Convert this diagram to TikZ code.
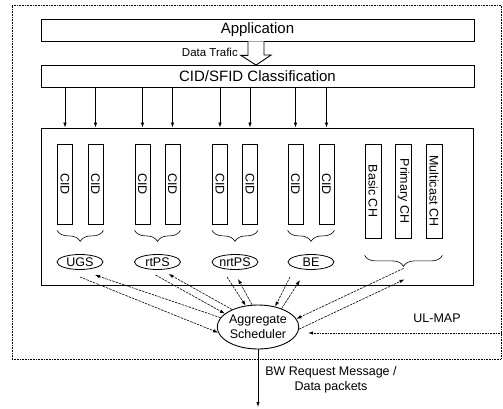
\documentclass[tikz,border=0pt]{standalone}
\usepackage{fontspec}
\setmainfont{Liberation Sans}
\usetikzlibrary{arrows.meta, positioning, calc, shapes.geometric, decorations.pathreplacing}

\begin{document}
\begin{tikzpicture}[
    x=1pt, y=-1pt,
    % ── Node styles ──────────────────────────────────────────────────────
    layerbox/.style={
        draw, line width=0.9pt, minimum width=433pt, minimum height=22pt,
        inner sep=0pt, font=\fontsize{15}{17}\selectfont
    },
    framebox/.style={
        draw, densely dotted, line width=0.6pt, inner sep=0pt
    },
    cidbar/.style={
        draw, line width=0.8pt, minimum width=15pt, minimum height=80pt,
        inner sep=0pt, font=\fontsize{12.5}{14}\selectfont
    },
    chbar/.style={
        cidbar, minimum width=16pt, minimum height=94pt
    },
    qos/.style={
        draw, ellipse, line width=0.8pt, minimum width=46pt,
        minimum height=15pt, inner sep=0pt,
        font=\fontsize{12.5}{14}\selectfont
    },
    schednode/.style={
        draw, ellipse, line width=0.9pt, minimum width=80pt,
        minimum height=44pt, inner sep=0pt, align=center,
        font=\fontsize{12.5}{15}\selectfont
    },
    plain/.style={font=\fontsize{12.5}{15.5}\selectfont, inner sep=0pt},
    % ── Line styles ──────────────────────────────────────────────────────
    arr/.style={-{Latex[length=5pt, width=3.5pt]}, line width=0.8pt},
    link/.style={-{Latex[length=5pt, width=3.5pt]}, line width=0.6pt,
        dash pattern=on 2.5pt off 1pt},
    brace/.style={decorate, decoration={brace, mirror, amplitude=11pt},
        line width=0.6pt}
]
\useasboundingbox (0,0) rectangle (503,409);

% ═══════════════════════════════════════════════════════════════════════
% Frame and layers
% ═══════════════════════════════════════════════════════════════════════
\node[framebox, minimum width=489pt, minimum height=354pt] (frame) at (256.5,182) {};

\node[layerbox] (app) at (257.5,30) {Application};
\node[layerbox] (cls) at (257.5,76.5) {CID/SFID Classification};

% hollow data traffic arrow
\coordinate (dtop) at ($(app.south)+(-1.5,0)$);
\draw[line width=0.9pt, fill=white] ($(dtop)+(-8,0)$) -- ++(0,14) -- ++(-7,0)
    -- (dtop |- cls.north) -- ++(15,-10) -- ++(-7,0) -- ($(dtop)+(8,0)$);
\node[plain, anchor=east, font=\fontsize{11.5}{13}\selectfont] (traffic)
    at (238,52) {Data Trafic};

\node[draw, line width=0.8pt, minimum width=432pt, minimum height=157pt,
      inner sep=0pt] (inner) at (257,206.5) {};

% ═══════════════════════════════════════════════════════════════════════
% Connection bars
% ═══════════════════════════════════════════════════════════════════════
\node[cidbar] (ugsa) at (65,184) {\rotatebox{-90}{CID}};
\node[cidbar] (ugsb) at (95.5,184) {\rotatebox{-90}{CID}};
\node[cidbar] (rtpsa) at (142.5,184) {\rotatebox{-90}{CID}};
\node[cidbar] (rtpsb) at (172.5,184) {\rotatebox{-90}{CID}};
\node[cidbar] (nrtpsa) at (220,184) {\rotatebox{-90}{CID}};
\node[cidbar] (nrtpsb) at (250,184) {\rotatebox{-90}{CID}};
\node[cidbar] (bea) at (295.5,184) {\rotatebox{-90}{CID}};
\node[cidbar] (beb) at (326.5,184) {\rotatebox{-90}{CID}};

\node[chbar] (basic) at (373,191) {\rotatebox{-90}{Basic CH}};
\node[chbar] (primary) at (403.5,191) {\rotatebox{-90}{Primary CH}};
\node[chbar] (multicast) at (434,191) {\rotatebox{-90}{Multicast CH}};

% classification arrows
\draw[arr] (cls.south -| ugsa) -- (inner.north -| ugsa);
\draw[arr] (cls.south -| ugsb) -- (inner.north -| ugsb);
\draw[arr] (cls.south -| rtpsa) -- (inner.north -| rtpsa);
\draw[arr] (cls.south -| rtpsb) -- (inner.north -| rtpsb);
\draw[arr] (cls.south -| nrtpsa) -- (inner.north -| nrtpsa);
\draw[arr] (cls.south -| nrtpsb) -- (inner.north -| nrtpsb);
\draw[arr] (cls.south -| bea) -- (inner.north -| bea);
\draw[arr] (cls.south -| beb) -- (inner.north -| beb);

% braces
\draw[brace] ([yshift=-6pt]ugsa.south west) -- ([yshift=-6pt]ugsb.south east);
\draw[brace] ([yshift=-6pt]rtpsa.south west) -- ([yshift=-6pt]rtpsb.south east);
\draw[brace] ([yshift=-6pt]nrtpsa.south west) -- ([yshift=-6pt]nrtpsb.south east);
\draw[brace] ([yshift=-6pt]bea.south west) -- ([yshift=-6pt]beb.south east);
\draw[brace] ([yshift=-17pt]basic.south west) -- ([yshift=-17pt]multicast.south east);
\coordinate (chtip) at ($(basic.south west)!0.5!(multicast.south east)+(0,30)$);

% ═══════════════════════════════════════════════════════════════════════
% Service classes and scheduler
% ═══════════════════════════════════════════════════════════════════════
\node[qos] (ugs) at (80,262) {UGS};
\node[qos] (rtps) at (157.5,262) {rtPS};
\node[qos] (nrtps) at (235,262) {nrtPS};
\node[qos] (be) at (311,262) {BE};

\node[schednode] (sched) at (258,327) {Aggregate\\Scheduler};

\draw[link] ([shift={(0,15)}]ugs.center) -- (sched.188);
\draw[link] (sched.166) -- ([shift={(15,13)}]ugs.center);
\draw[link] ([shift={(-2,13)}]rtps.center) -- (sched.158);
\draw[link] (sched.146) -- ([shift={(11,12)}]rtps.center);
\draw[link] ([shift={(-8,15)}]nrtps.center) -- (sched.120);
\draw[link] (sched.105) -- ([shift={(3,17)}]nrtps.center);
\draw[link] ([shift={(-21,15)}]be.center) -- (sched.50);
\draw[link] (sched.38) -- ([shift={(-11,18)}]be.center);
\draw[link] (chtip) -- (sched.12);
\draw[link] (sched.-3) -- ([shift={(1,11)}]chtip);

% UL-MAP input
\coordinate (ulsrc) at (frame.east |- 0,333);
\draw[-{Latex[length=5pt, width=3.5pt]}, line width=0.6pt, densely dotted,
      shorten >=9pt] (ulsrc) -- (sched.east |- ulsrc);
\node[plain] (ulmap) at (437,318) {UL-MAP};

% output
\coordinate (out) at (258,407);
\draw[arr] (sched.south) -- (out);
\node[plain, align=center] (bwreq) at (331,380)
    {BW Request Message /\\Data packets};

\end{tikzpicture}
\end{document}
